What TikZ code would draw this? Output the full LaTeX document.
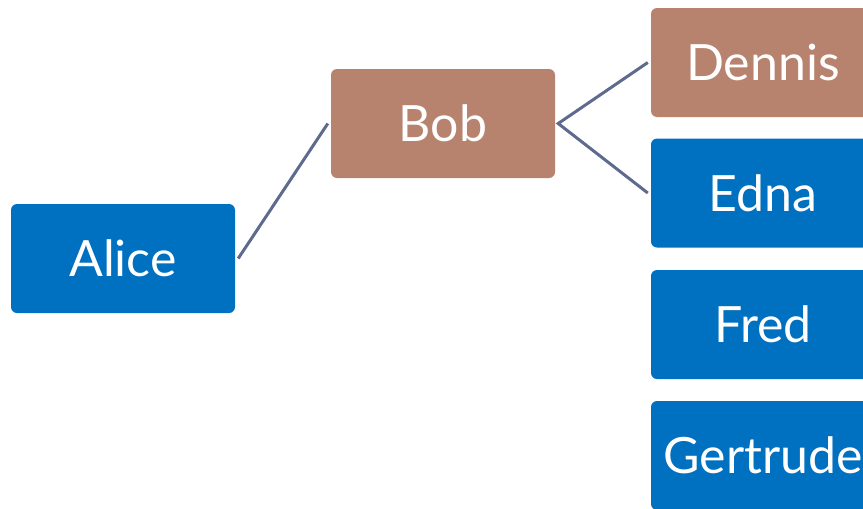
\documentclass[tikz,border=0pt]{standalone}
\usepackage{fontspec}
\setmainfont{Lato}
\definecolor{boxblue}{HTML}{0070C0}
\definecolor{boxbrown}{HTML}{B7836F}
\definecolor{linkgray}{HTML}{5E6A8E}
\begin{document}
\begin{tikzpicture}[x=1pt,y=-1pt,
  member/.style={rectangle, rounded corners=6pt, minimum width=224pt, minimum height=109pt,
    inner sep=0pt, text=white, font=\fontsize{50}{60}\selectfont},
  bluebox/.style={member, fill=boxblue},
  brownbox/.style={member, fill=boxbrown},
  link/.style={draw=linkgray, line width=3pt}]
\useasboundingbox (0,0) rectangle (863,509);
\clip (0,0) rectangle (863,509);
% tree members
\node[bluebox]  (alice)    at (123,258.5) {Alice};
\node[brownbox] (bob)      at (443,123.5) {Bob};
\node[brownbox] (dennis)   at (763,62.5)  {Dennis};
\node[bluebox]  (edna)     at (763,193)   {Edna};
\node[bluebox]  (fred)     at (763,324.5) {Fred};
\node[bluebox]  (gertrude) at (763,455.5) {Gertrude};
% links between generations
\draw[link] ([xshift=3pt]alice.east) -- ([xshift=-3pt]bob.west);
\draw[link] ([xshift=-3pt]dennis.west) -- ([xshift=3pt]bob.east) -- ([xshift=-3pt]edna.west);
\end{tikzpicture}
\end{document}
